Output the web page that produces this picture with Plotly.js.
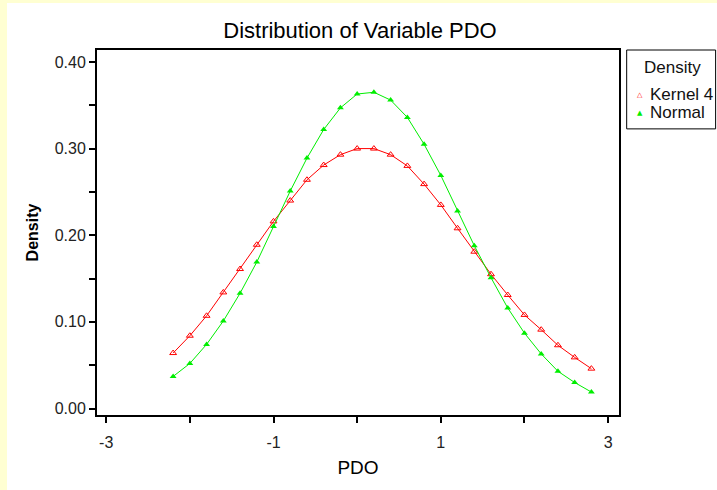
<!DOCTYPE html>
<html>
<head>
<meta charset="utf-8">
<script src="https://cdn.plot.ly/plotly-3.0.1.min.js"></script>
<style>
  html, body { margin: 0; padding: 0; background: #FFFFD2; width: 717px; height: 490px; overflow: hidden; }
  #chart { position: absolute; left: 7px; top: 3px; width: 710px; height: 487px; }
</style>
</head>
<body>
<div id="chart"></div>
<script>
// Data
const pdo = [-2.2, -2.0, -1.8, -1.6, -1.4, -1.2, -1.0, -0.8, -0.6, -0.4, -0.2, 0.0, 0.2,
             0.4, 0.6, 0.8, 1.0, 1.2, 1.4, 1.6, 1.8, 2.0, 2.2, 2.4, 2.6, 2.8];
const kernel4 = [0.064, 0.084, 0.107, 0.134, 0.161, 0.189, 0.216, 0.240, 0.264, 0.281, 0.293, 0.300, 0.300,
                 0.293, 0.280, 0.259, 0.235, 0.208, 0.181, 0.155, 0.131, 0.108, 0.091, 0.073, 0.059, 0.046];
const normal = [0.037, 0.052, 0.074, 0.101, 0.133, 0.169, 0.210, 0.251, 0.289, 0.322, 0.347, 0.363, 0.365,
                0.356, 0.336, 0.305, 0.269, 0.228, 0.188, 0.151, 0.116, 0.087, 0.063, 0.043, 0.030, 0.019];
const xTickVals = [-3, -2, -1, 0, 1, 2, 3];
const xTickText = ['-3', '', '-1', '', '1', '', '3'];
const yTickVals = [0, 0.05, 0.10, 0.15, 0.20, 0.25, 0.30, 0.35, 0.40];
const yTickText = ['0.00', '', '0.10', '', '0.20', '', '0.30', '', '0.40'];
const seriesNames = ['Kernel 4', 'Normal'];
const legendTitle = 'Density';

const FONT = 'Liberation Sans, Arial, sans-serif';
const RED = '#ff0000';
const GREEN = '#00ee00';

const traces = [
  {
    x: pdo, y: kernel4, name: seriesNames[0], type: 'scatter', mode: 'lines+markers',
    line: { color: RED, width: 1 },
    marker: { symbol: 'triangle-up-open', size: 6, color: RED, line: { color: RED, width: 1 } },
    showlegend: false
  },
  {
    x: pdo, y: normal, name: seriesNames[1], type: 'scatter', mode: 'lines+markers',
    line: { color: GREEN, width: 1 },
    marker: { symbol: 'triangle-up', size: 6, color: GREEN, line: { color: GREEN, width: 0 } },
    showlegend: false
  }
];

// plot area in div coordinates: x 90..612.3, y 47..412.5
const layout = {
  width: 710, height: 487,
  paper_bgcolor: '#ffffff', plot_bgcolor: '#ffffff',
  margin: { l: 90, r: 97.7, t: 47, b: 74.5, pad: 0 },
  showlegend: false,
  font: { family: FONT, color: '#111' },
  title: {
    text: 'Distribution of Variable PDO',
    font: { family: FONT, size: 22, color: '#000' },
    x: 353 / 710, xref: 'container', xanchor: 'center',
    y: 1 - 27 / 487, yref: 'container', yanchor: 'middle'
  },
  xaxis: {
    range: [-3.11, 3.13], showgrid: false, zeroline: false,
    showline: true, mirror: true, linecolor: '#000', linewidth: 2,
    ticks: 'outside', ticklen: 6, tickwidth: 2, tickcolor: '#000',
    tickvals: xTickVals, ticktext: xTickText,
    tickfont: { family: FONT, size: 16, color: '#222' },
    ticklabelstandoff: 6,
    title: { text: 'PDO', font: { family: FONT, size: 19, color: '#000' }, standoff: 10 },
    automargin: false
  },
  yaxis: {
    range: [-0.0075, 0.4138], showgrid: false, zeroline: false,
    showline: true, mirror: true, linecolor: '#000', linewidth: 2,
    ticks: 'outside', ticklen: 6, tickwidth: 2, tickcolor: '#000',
    tickvals: yTickVals, ticktext: yTickText,
    tickfont: { family: FONT, size: 16, color: '#222' },
    title: { text: '<b>Density</b>', font: { family: FONT, size: 16, color: '#000' }, standoff: 12 },
    automargin: false
  },
  shapes: [
    { type: 'rect', xref: 'paper', yref: 'paper', x0: 1.0147, x1: 1.1851, y0: 0.7839, y1: 1.0,
      line: { color: '#000', width: 1 }, fillcolor: '#ffffff', layer: 'below' }
  ],
  annotations: [
    { xref: 'paper', yref: 'paper', x: 1.1028, y: 0.9508, text: legendTitle, showarrow: false,
      xanchor: 'center', yanchor: 'middle', font: { family: FONT, size: 17, color: '#111' } },
    { xref: 'paper', yref: 'paper', x: 1.0396, y: 0.8769, text: '\u25B3', showarrow: false,
      xanchor: 'center', yanchor: 'middle', font: { family: 'DejaVu Sans', size: 7, color: RED } },
    { xref: 'paper', yref: 'paper', x: 1.0550, y: 0.8769, text: seriesNames[0], showarrow: false,
      xanchor: 'left', yanchor: 'middle', font: { family: FONT, size: 17, color: '#111' } },
    { xref: 'paper', yref: 'paper', x: 1.0396, y: 0.8276, text: '\u25B2', showarrow: false,
      xanchor: 'center', yanchor: 'middle', font: { family: 'DejaVu Sans', size: 7, color: GREEN } },
    { xref: 'paper', yref: 'paper', x: 1.0550, y: 0.8276, text: seriesNames[1], showarrow: false,
      xanchor: 'left', yanchor: 'middle', font: { family: FONT, size: 17, color: '#111' } }
  ]
};

Plotly.newPlot('chart', traces, layout, { staticPlot: true, displayModeBar: false });
</script>
</body>
</html>
